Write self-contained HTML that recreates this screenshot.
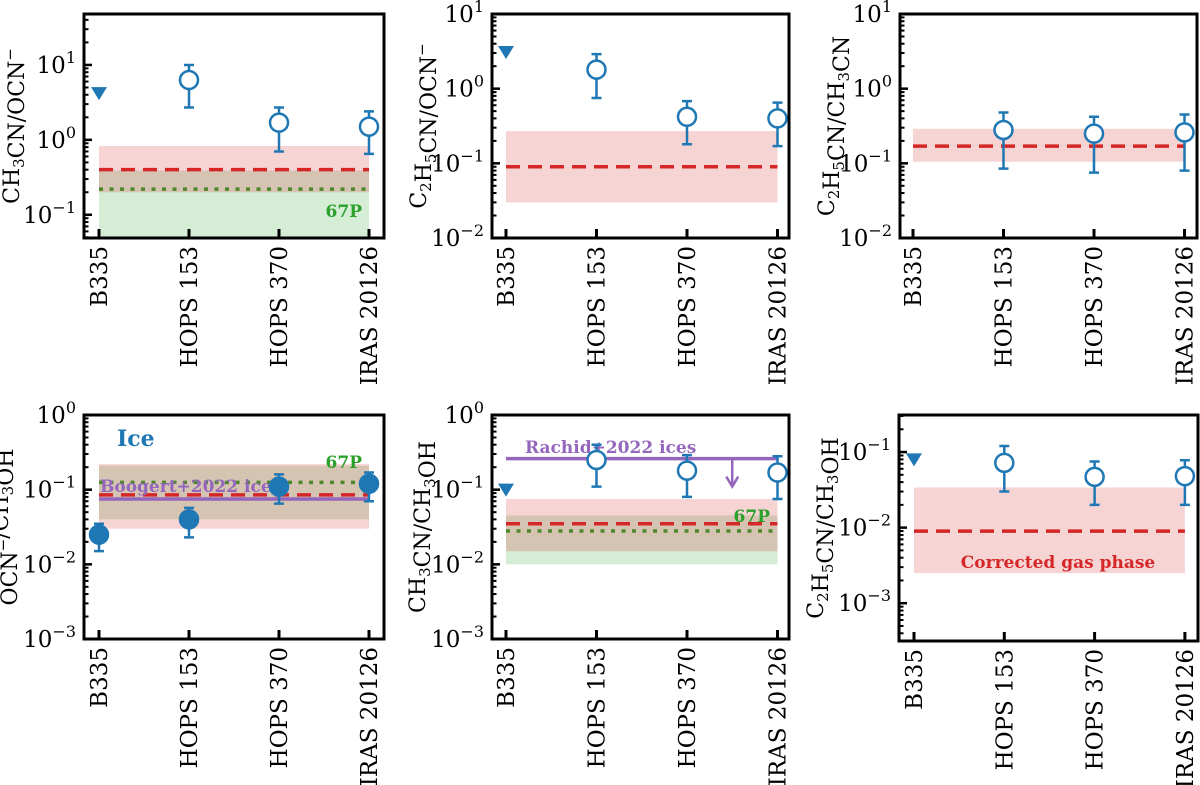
<!DOCTYPE html>
<html><head><meta charset="utf-8"><style>
body{margin:0;background:#fff}
svg{display:block;font-family:"DejaVu Serif","Liberation Serif",serif}
</style></head><body>
<svg id="fig" width="1200" height="785"></svg>
<script>
const categories=["B335","HOPS 153","HOPS 370","IRAS 20126"];
// panel 1
const p1Up=[4.2], p1Val=[null,6.3,1.7,1.5], p1Lo=[null,2.7,0.7,0.65], p1Hi=[null,10,2.7,2.4];
const p1Red=[0.2,0.4,0.83], p1Green=[0.01,0.22,0.39];
// panel 2
const p2Up=[3.1], p2Val=[null,1.8,0.42,0.4], p2Lo=[null,0.75,0.18,0.17], p2Hi=[null,2.9,0.68,0.65];
const p2Red=[0.03,0.09,0.27];
// panel 3
const p3Val=[null,0.28,0.25,0.26], p3Lo=[null,0.085,0.075,0.08], p3Hi=[null,0.48,0.42,0.45];
const p3Red=[0.105,0.17,0.29];
// panel 4
const p4Val=[0.025,0.04,0.11,0.12], p4Lo=[0.015,0.023,0.065,0.07], p4Hi=[0.035,0.057,0.16,0.17];
const p4Red=[0.03,0.085,0.22], p4Green=[0.04,0.125,0.21], p4Purple=[0.075];
// panel 5
const p5Up=[0.1], p5Val=[null,0.25,0.18,0.17], p5Lo=[null,0.11,0.08,0.075], p5Hi=[null,0.4,0.29,0.28];
const p5Red=[0.015,0.035,0.075], p5Green=[0.01,0.028,0.045], p5Purple=[0.26], p5Arrow=[0.11];
// panel 6
const p6Up=[0.08], p6Val=[null,0.072,0.047,0.048], p6Lo=[null,0.03,0.02,0.02], p6Hi=[null,0.12,0.075,0.078];
const p6Red=[0.0025,0.009,0.034];

const NS="http://www.w3.org/2000/svg";
const svg=document.getElementById('fig');
function el(tag,attrs,parent){const e=document.createElementNS(NS,tag);for(const k in attrs)e.setAttribute(k,attrs[k]);(parent||svg).appendChild(e);return e;}
const BLUE="#1f77b4",RED="#d62728",GREEN="#2ca02c",PURPLE="#9467bd";

function panel(o){
  const g=el('g',{});
  
  
  const L=o.l,R=o.r,T=o.t,B=o.b;
  const lmin=Math.log10(o.ymin),lmax=Math.log10(o.ymax);
  const y=v=>B-(Math.log10(v)-lmin)/(lmax-lmin)*(B-T);
  const xs=i=>o.x0+i*o.dx;
  const clip='c'+o.name;
  const cp=el('clipPath',{id:clip},g);el('rect',{x:L,y:T,width:R-L,height:B-T},cp);
  const pg=el('g',{'clip-path':'url(#'+clip+')'},g);
  const x1=xs(0),x2=xs(3);
  function band(arr,col,op,nm){const r=el('rect',{x:x1,width:x2-x1,y:y(arr[2]),height:y(arr[0])-y(arr[2]),fill:col,'fill-opacity':op},pg);
    const l=el('line',{x1:x1,x2:x2,y1:y(arr[1]),y2:y(arr[1]),stroke:col,'stroke-width':3.5,'stroke-dasharray':nm.includes('red')?'14,8':'4,6.5'},pg);}
  if(o.green)band(o.green,GREEN,0.2,'green-67p-band');
  if(o.red)band(o.red,RED,0.2,'red-gas-band');
  if(o.purple){const l=el('line',{x1:x1,x2:x2,y1:y(o.purple[0]),y2:y(o.purple[0]),stroke:PURPLE,'stroke-width':3.5},pg);}
  if(o.arrow){const ax=xs(2.5),y0=y(o.purple[0]),y1a=y(o.arrow[0]);
    const a=el('path',{d:`M${ax},${y0}L${ax},${y1a} M${ax-6},${y1a-10}L${ax},${y1a}L${ax+6},${y1a-10}`,stroke:PURPLE,'stroke-width':2.5,fill:'none'},pg);}
  (o.texts||[]).forEach(t=>{const e=el('text',{x:t.x,y:t.y,fill:t.c,'font-size':t.s||17,'font-weight':'bold','text-anchor':t.a||'start'},g);e.textContent=t.t;});
  if(o.up){const tx=xs(0),ty=y(o.up[0]);const t=el('path',{d:`M${tx-8},${ty-6}L${tx+8},${ty-6}L${tx},${ty+7}Z`,fill:BLUE},g);}
  o.val.forEach((v,i)=>{if(v==null)return;const cx=xs(i);
    const eb=el('path',{d:`M${cx},${y(o.lo[i])}L${cx},${y(o.hi[i])} M${cx-5},${y(o.lo[i])}L${cx+5},${y(o.lo[i])} M${cx-5},${y(o.hi[i])}L${cx+5},${y(o.hi[i])}`,stroke:BLUE,'stroke-width':2.5,fill:'none'},g);
    
    const c=el('circle',{cx:cx,cy:y(v),r:9,fill:o.filled?BLUE:'#fff',stroke:BLUE,'stroke-width':2.5},g);
    });
  const f=el('rect',{x:L,y:T,width:R-L,height:B-T,fill:'none',stroke:'#000','stroke-width':3},g);
  for(let d=Math.floor(lmin);d<=Math.ceil(lmax);d++){for(let m=1;m<10;m++){const v=m*Math.pow(10,d);const lv=Math.log10(v);if(lv<lmin-1e-6||lv>lmax+1e-6)continue;const yy=y(v);
    el('line',{x1:L,x2:L+(m==1?8:4.5),y1:yy,y2:yy,stroke:'#000','stroke-width':m==1?2.5:2},g);
    if(m==1){const t=el('text',{x:L-8,y:yy+8,'font-size':23,'text-anchor':'end'},g);t.innerHTML=`10<tspan dy="-10" font-size="16">${d<0?'−'+(-d):d}</tspan>`;}}}
  categories.forEach((c,i)=>{const xx=xs(i);el('line',{x1:xx,x2:xx,y1:B,y2:B-9,stroke:'#000','stroke-width':3},g);
    const t=el('text',{x:0,y:0,'font-size':23,'text-anchor':'end',transform:`translate(${xx+8},${B+8}) rotate(-90)`},g);t.textContent=c;});
  const yl=el('text',{x:0,y:0,'font-size':22,'text-anchor':'middle',transform:`translate(${o.ylx},${(T+B)/2}) rotate(-90)`},g);yl.innerHTML=o.ylabel;
}
const sub=s=>`<tspan dy="5" font-size="15">${s}</tspan><tspan dy="-5"></tspan>`;
const sup=s=>`<tspan dy="-9" font-size="15">${s}</tspan><tspan dy="9"></tspan>`;
panel({name:'panel-ch3cn-ocn',l:84,r:384,t:14,b:238,ymin:Math.pow(10,-1.31),ymax:Math.pow(10,1.68),x0:99,dx:90,up:p1Up,val:p1Val,lo:p1Lo,hi:p1Hi,red:p1Red,green:p1Green,ylx:19,ylabel:`CH${sub(3)}CN/OCN${sup('−')}`,texts:[{x:362,y:217,t:'67P',c:GREEN,a:'end',n:'label-67p'}]});
panel({name:'panel-c2h5cn-ocn',l:492,r:789,t:14,b:238,ymin:0.01,ymax:10,x0:506,dx:90.5,up:p2Up,val:p2Val,lo:p2Lo,hi:p2Hi,red:p2Red,ylx:426,ylabel:`C${sub(2)}H${sub(5)}CN/OCN${sup('−')}`});
panel({name:'panel-c2h5cn-ch3cn',l:900,r:1197,t:14,b:238,ymin:0.01,ymax:10,x0:913,dx:90.5,val:p3Val,lo:p3Lo,hi:p3Hi,red:p3Red,ylx:834,ylabel:`C${sub(2)}H${sub(5)}CN/CH${sub(3)}CN`});
panel({name:'panel-ocn-ch3oh',l:84,r:384,t:415,b:639,ymin:0.001,ymax:1,x0:99,dx:90,filled:true,val:p4Val,lo:p4Lo,hi:p4Hi,red:p4Red,green:p4Green,purple:p4Purple,ylx:17,ylabel:`OCN${sup('−')}/CH${sub(3)}OH`,
 texts:[{x:117,y:446,t:'Ice',c:BLUE,s:22,n:'ice-label'},{x:362,y:468,t:'67P',c:GREEN,a:'end',n:'label-67p'},{x:100,y:492,t:'Boogert+2022 ices',c:PURPLE,n:'boogert-label'}]});
panel({name:'panel-ch3cn-ch3oh',l:492,r:789,t:415,b:639,ymin:0.001,ymax:1,x0:506,dx:90.5,up:p5Up,val:p5Val,lo:p5Lo,hi:p5Hi,red:p5Red,green:p5Green,purple:p5Purple,arrow:p5Arrow,ylx:425,ylabel:`CH${sub(3)}CN/CH${sub(3)}OH`,
 texts:[{x:525,y:453,t:'Rachid+2022 ices',c:PURPLE,n:'rachid-label'},{x:770,y:522,t:'67P',c:GREEN,a:'end',n:'label-67p'}]});
panel({name:'panel-c2h5cn-ch3oh',l:899,r:1198,t:415,b:641,ymin:Math.pow(10,-3.5),ymax:Math.pow(10,-0.51),x0:914,dx:90.3,up:p6Up,val:p6Val,lo:p6Lo,hi:p6Hi,red:p6Red,ylx:823,ylabel:`C${sub(2)}H${sub(5)}CN/CH${sub(3)}OH`,
 texts:[{x:1058,y:568,t:'Corrected gas phase',c:RED,a:'middle',n:'corrected-gas-label'}]});
</script>
</body></html>
